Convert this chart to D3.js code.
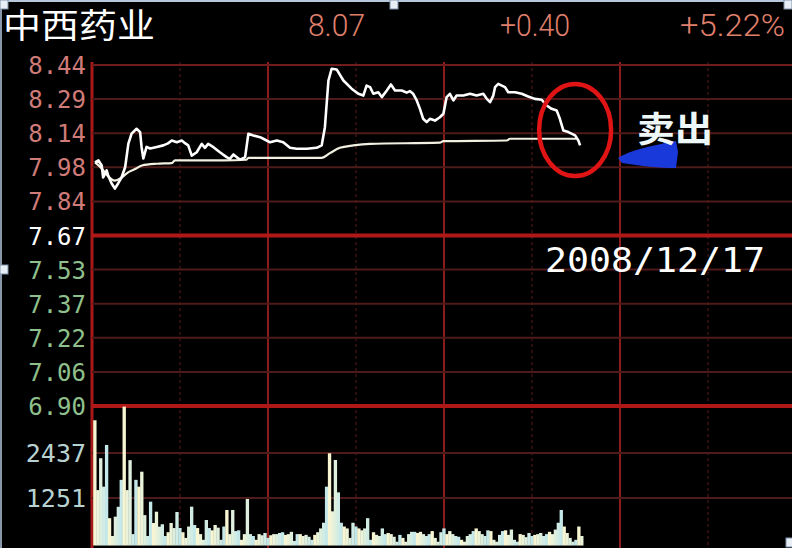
<!DOCTYPE html>
<html><head><meta charset="utf-8">
<script src="https://cdn.jsdelivr.net/npm/d3@7/dist/d3.min.js"></script>
<style>html,body{margin:0;padding:0;background:#000;overflow:hidden}svg{display:block}</style>
</head><body>
<script>
// ---------- data ----------
const stockName = "中西药业";
const headerValues = ["8.07", "+0.40", "+5.22%"];
const prevClose = 7.67;
const priceTicks = ["8.44","8.29","8.14","7.98","7.84","7.67","7.53","7.37","7.22","7.06","6.90"];
const volumeTicks = [2437, 1251];
const gridMinutes = [0, 30, 60, 90, 120, 150, 180, 210];
// price line (minute, price)
const priceMinutes = [1.0,2.2,3.3,3.8,5.0,5.5,6.7,7.8,8.9,10.1,11.3,12.4,13.5,15.2,16.4,16.9,17.5,18.6,19.8,22.1,24.3,25.9,27.2,28.9,30.6,31.7,32.8,34.0,35.7,37.4,38.5,39.6,41.4,43.6,45.9,47.0,48.2,49.3,50.5,52.2,53.3,55.0,57.3,58.4,60.7,63.0,65.2,67.5,69.8,73.2,76.6,78.3,79.4,80.6,81.7,83.4,85.7,88.5,90.8,92.5,93.6,94.8,95.9,97.6,98.8,100.5,101.9,103.3,105.6,107.3,108.4,109.5,110.7,111.8,112.9,114.1,115.2,116.9,118.6,119.8,120.9,122.0,123.2,124.3,126.6,128.9,131.1,133.4,134.6,135.7,136.8,137.4,138.5,139.7,140.8,141.9,144.2,146.5,148.7,151.0,153.3,155.0,156.7,158.4,159.5,160.7,162.4,164.7,165.8,166.4];
const priceValues = [8.000,8.009,7.986,7.932,7.964,7.941,7.905,7.882,7.905,7.933,7.978,8.085,8.130,8.152,8.137,8.070,8.018,8.070,8.063,8.070,8.077,8.086,8.099,8.091,8.099,8.087,8.077,8.031,8.046,8.084,8.066,8.084,8.069,8.046,8.024,8.016,8.036,8.024,8.012,8.024,8.129,8.122,8.114,8.107,8.091,8.099,8.091,8.066,8.062,8.062,8.066,8.077,8.159,8.370,8.423,8.420,8.370,8.333,8.310,8.302,8.347,8.340,8.310,8.317,8.295,8.325,8.352,8.325,8.325,8.315,8.322,8.310,8.280,8.242,8.197,8.182,8.197,8.189,8.204,8.220,8.295,8.310,8.280,8.302,8.302,8.310,8.302,8.310,8.287,8.272,8.302,8.340,8.355,8.347,8.340,8.317,8.317,8.310,8.298,8.287,8.283,8.257,8.242,8.235,8.197,8.144,8.137,8.122,8.099,8.077];
// average price line (minute, price)
const avgMinutes = [1.0,3.3,5.5,7.8,10.1,12.3,14.7,17.0,22.1,27.2,28.3,44.8,52.7,53.3,78.3,81.1,84.5,89.1,94.8,118.6,119.8,141.4,142.5,165.2];
const avgValues = [8.000,7.973,7.937,7.918,7.932,7.955,7.970,7.986,7.994,7.997,8.009,8.009,8.012,8.021,8.021,8.042,8.066,8.077,8.084,8.089,8.096,8.099,8.107,8.107];
// per-minute volume
const volumes = [3300,1460,2300,1550,2650,720,250,760,1020,1730,3660,1460,2250,300,1730,1550,1945,800,250,1155,593,891,496,560,250,350,593,460,883,461,350,200,500,1023,540,460,300,150,672,460,400,540,470,150,500,936,300,936,380,400,150,300,1226,300,250,150,300,270,330,200,270,300,300,330,350,280,300,360,120,300,300,250,280,230,150,280,350,450,600,1550,2430,900,2254,1400,600,500,450,200,600,500,450,400,450,720,150,350,280,250,450,300,330,300,230,100,280,200,100,300,360,360,330,360,300,250,300,380,200,100,350,450,300,380,300,250,230,150,100,250,300,380,450,380,300,250,400,380,150,100,280,380,400,280,420,150,100,300,280,220,330,250,280,300,330,250,300,360,300,420,600,936,500,330,200,100,150,500,250];
const annotationText = "卖出";
const dateText = "2008/12/17";

// ---------- drawing ----------
const W = 792, H = 548;
const svg = d3.select("body").append("svg").attr("width", W).attr("height", H);
svg.append("rect").attr("width", W).attr("height", H).attr("fill", "#000");

const x = d3.scaleLinear().domain([0, 240]).range([92, 796]);
const yPrice = d3.scaleLinear().domain([6.90, 8.44]).range([406, 65]);
const yTick = d3.scalePoint().domain(priceTicks).range([65, 406]);
const yVol = d3.scaleLinear().domain([0, 3650]).range([545.5, 407]);

// vertical grid
const gV = svg.append("g");
gridMinutes.forEach(m => {
  const major = m % 60 === 0;
  gV.append("line")
    .attr("x1", x(m)).attr("x2", x(m)).attr("y1", 62).attr("y2", 548)
    .attr("stroke", m === 0 ? "#a81818" : (major ? "#8a1c1c" : "#3c1212"))
    .attr("stroke-width", m === 0 ? 3 : (major ? 2 : 1.5))
    .attr("stroke-dasharray", major ? null : "3,3");
});

// horizontal price grid
const gH = svg.append("g");
priceTicks.forEach((t, i) => {
  const thick = (t === "7.67" || t === "6.90");
  gH.append("line")
    .attr("x1", 92).attr("x2", W).attr("y1", yTick(t)).attr("y2", yTick(t))
    .attr("stroke", thick ? "#b01818" : (i === 0 ? "#6e1c1c" : "#4e1a1a"))
    .attr("stroke-width", thick ? 4 : 2);
});
// volume grid
volumeTicks.forEach(v => {
  gH.append("line")
    .attr("x1", 92).attr("x2", W).attr("y1", yVol(v)).attr("y2", yVol(v))
    .attr("stroke", "#4e1a1a").attr("stroke-width", 2);
});

// price axis labels
const tickColor = t => (+t > prevClose ? "#cf7b78" : (+t < prevClose ? "#8fc08c" : "#ffffff"));
svg.append("g").selectAll("text").data(priceTicks).join("text")
  .attr("x", 86).attr("y", d => yTick(d) + 9)
  .attr("text-anchor", "end")
  .attr("font-family", "DejaVu Sans Mono, monospace")
  .attr("font-size", 24)
  .attr("fill", tickColor)
  .text(d => d);

// volume labels
svg.append("g").selectAll("text").data(volumeTicks).join("text")
  .attr("x", 86).attr("y", d => yVol(d) + 9)
  .attr("text-anchor", "end")
  .attr("font-family", "DejaVu Sans Mono, monospace")
  .attr("font-size", 25)
  .attr("fill", "#b8d2d2")
  .text(d => d);

// volume bars
const barColor = d3.interpolateRgb("#f8f6d2", "#c4e8ea");
svg.append("g").selectAll("rect").data(volumes).join("rect")
  .attr("x", (d, i) => x(i) + 1.2)
  .attr("width", (d, i) => x(i + 1) - x(i) + 0.4)
  .attr("y", d => yVol(d))
  .attr("height", d => yVol(0) - yVol(d))
  .attr("fill", (d, i) => barColor((i % 5) / 4));

// lines
const avgLine = d3.line().x(d => x(d[0])).y(d => yPrice(d[1])).curve(d3.curveMonotoneX);
svg.append("path")
  .datum(avgMinutes.map((m, i) => [m, avgValues[i]]))
  .attr("d", avgLine).attr("fill", "none")
  .attr("stroke", "#f2f0e0").attr("stroke-width", 2.2);

const priceLine = d3.line().x(d => x(d[0])).y(d => yPrice(d[1]));
svg.append("path")
  .datum(priceMinutes.map((m, i) => [m, priceValues[i]]))
  .attr("d", priceLine).attr("fill", "none")
  .attr("stroke", "#ffffff").attr("stroke-width", 2.6)
  .attr("stroke-linejoin", "round");

// header
svg.append("text").attr("x", 3).attr("y", 38)
  .attr("font-family", "Noto Sans CJK SC, sans-serif").attr("font-size", 34)
  .attr("fill", "#ffffff").attr("textLength", 152).attr("lengthAdjust", "spacingAndGlyphs")
  .text(stockName);
const hdrX = [308, 500, 680], hdrLen = [57, 70, 105];
headerValues.forEach((v, i) => {
  svg.append("text").attr("x", hdrX[i]).attr("y", 36)
    .attr("font-family", "Roboto, Liberation Sans, sans-serif").attr("font-weight", 300)
    .attr("font-size", 32).attr("fill", "#e0806c")
    .attr("textLength", hdrLen[i]).attr("lengthAdjust", "spacingAndGlyphs")
    .text(v);
});

// annotation: red ellipse
const lastM = priceMinutes[priceMinutes.length - 1];
svg.append("ellipse")
  .attr("cx", x(lastM) - 5).attr("cy", 130).attr("rx", 36).attr("ry", 46)
  .attr("fill", "none").attr("stroke", "#e01414").attr("stroke-width", 4.5);

// blue arrow blob
svg.append("path")
  .attr("d", "M618,158 C630,150 650,146 676,141 L678,152 L676,168 C660,168 640,166 622,163 Z")
  .attr("fill", "#1a3ce6").attr("opacity", 0.95);

svg.append("text").attr("x", 637).attr("y", 142)
  .attr("font-family", "Noto Sans CJK SC, sans-serif").attr("font-weight", 700)
  .attr("font-size", 35).attr("fill", "#eef8f8")
  .attr("textLength", 76).attr("lengthAdjust", "spacingAndGlyphs")
  .text(annotationText);

svg.append("text").attr("x", 545).attr("y", 272)
  .attr("font-family", "DejaVu Sans Mono, monospace")
  .attr("font-size", 33).attr("fill", "#ffffff")
  .attr("textLength", 220).attr("lengthAdjust", "spacingAndGlyphs")
  .text(dateText);

// screenshot frame & handles
svg.append("line").attr("x1", 0).attr("x2", W).attr("y1", 1).attr("y2", 1).attr("stroke", "#b8c8dc").attr("stroke-width", 2);
svg.append("line").attr("x1", 1).attr("x2", 1).attr("y1", 0).attr("y2", H).attr("stroke", "#8898aa").attr("stroke-width", 2);
[[0,0],[390,0],[784,0],[0,265],[786,538]].forEach(p => {
  svg.append("rect").attr("x", p[0]).attr("y", p[1]).attr("width", 8).attr("height", 9)
    .attr("fill", "#e8eef6").attr("stroke", "#7f93ab").attr("stroke-width", 1);
});
</script>
</body></html>
